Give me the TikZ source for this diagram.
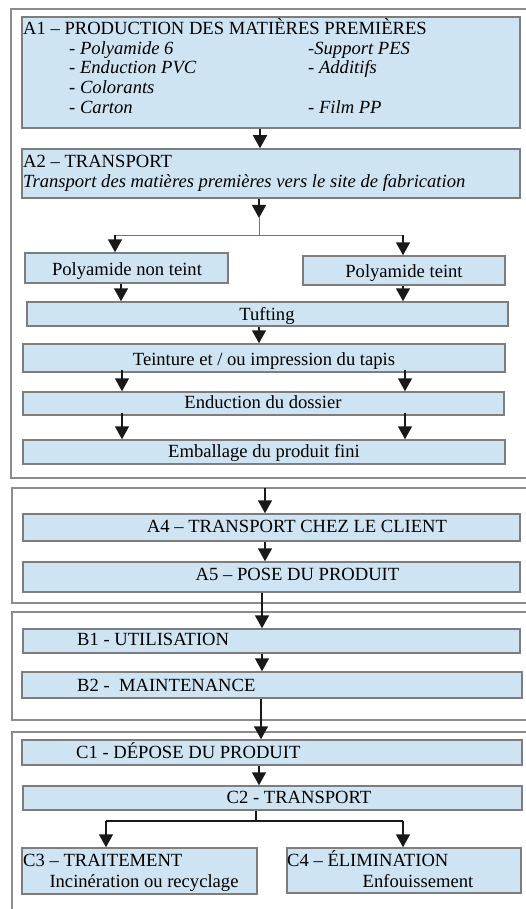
\documentclass[tikz,border=0pt]{standalone}
\usepackage{fontspec}
\setmainfont{Liberation Serif}
\usetikzlibrary{fit,arrows.meta}
\definecolor{boxfill}{RGB}{207,228,242}
\definecolor{boxline}{RGB}{125,125,125}
\definecolor{frameline}{RGB}{140,140,140}
\tikzset{
  box/.style={draw=boxline, line width=1.5pt, fill=boxfill, inner sep=0pt, rectangle},
  frame/.style={draw=frameline, line width=1.6pt},
  txt/.style={inner sep=0pt, font=\fontsize{18.6}{20}\selectfont, text=black},
  itxt/.style={txt, font=\fontsize{18.6}{20}\selectfont\itshape},
  arr/.style={draw=black!90, line width=1.5pt, -{Triangle[width=14pt,length=13pt]}},
  ln/.style={draw=black!90, line width=1.5pt},
  gln/.style={draw=black!55, line width=1pt},
}
\begin{document}
\begin{tikzpicture}[x=1pt,y=-1pt]
\clip (0,0) rectangle (526,909);
\fill[white] (0,0) rectangle (526,909);
% outer frames
\draw[frame] (11,9) rectangle (560,478);
\draw[frame] (12,488) rectangle (560,603);
\draw[frame] (12,612) rectangle (560,720);
\draw[frame] (12,732) rectangle (560,960);
\coordinate (F2top) at (265,488);
% boxes
\node[box, fit={(22,17) (520,128)}] (A1) {};
\node[box, fit={(22,149) (520,198)}] (A2) {};
\node[box, fit={(25,253) (228,283)}] (PNT) {};
\node[box, fit={(303,256) (505,285)}] (PT) {};
\node[box, fit={(27,302) (508,326)}] (TUF) {};
\node[box, fit={(23,344) (505,372)}] (TEI) {};
\node[box, fit={(23,392) (504,415)}] (END) {};
\node[box, fit={(23,440) (505,464)}] (EMB) {};
\node[box, fit={(23,514) (520,541)}] (A4) {};
\node[box, fit={(23,562) (520,592)}] (A5) {};
\node[box, fit={(23,629) (520,653)}] (B1) {};
\node[box, fit={(22,672) (522,698)}] (B2) {};
\node[box, fit={(22,740) (522,765)}] (C1) {};
\node[box, fit={(23,786) (522,810)}] (C2) {};
\node[box, fit={(22,848) (257,894)}] (C3) {};
\node[box, fit={(287,848) (521,893)}] (C4) {};
% texts
\node[txt, anchor=base west] (A1t) at (23,34.5) {A1 – PRODUCTION DES MATIÈRES PREMIÈRES};
\node[itxt, anchor=base west] (A1a) at (69,54.5) {- Polyamide 6};
\node[itxt, anchor=base west] (A1b) at (69,74) {- Enduction PVC};
\node[itxt, anchor=base west] (A1c) at (69,94) {- Colorants};
\node[itxt, anchor=base west] (A1d) at (69,114) {- Carton};
\node[itxt, anchor=base west] (A1e) at (308,54.5) {-Support PES};
\node[itxt, anchor=base west] (A1f) at (308,74) {- Additifs};
\node[itxt, anchor=base west] (A1g) at (308,114) {- Film PP};
\node[txt, anchor=base west] (A2t) at (23,167.5) {A2 – TRANSPORT};
\node[itxt, anchor=base west] (A2s) at (23,187.5) {Transport des matières premières vers le site de fabrication};
\node[txt, anchor=base] (PNTt) at (127,275) {Polyamide non teint};
\node[txt, anchor=base] (PTt) at (404,277) {Polyamide teint};
\node[txt, anchor=base] (TUFt) at (267,320) {Tufting};
\node[txt, anchor=base] (TEIt) at (264,365) {Teinture et / ou impression du tapis};
\node[txt, anchor=base] (ENDt) at (263,408) {Enduction du dossier};
\node[txt, anchor=base] (EMBt) at (264,457) {Emballage du produit fini};
\node[txt, anchor=base] (A4t) at (297,532) {A4 – TRANSPORT CHEZ LE CLIENT};
\node[txt, anchor=base] (A5t) at (297.5,580) {A5 – POSE DU PRODUIT};
\node[txt, anchor=base west] (B1t) at (77,645) {B1 - UTILISATION};
\node[txt, anchor=base west] (B2t) at (77,691) {B2 -\ \ MAINTENANCE};
\node[txt, anchor=base west] (C1t) at (76,758) {C1 - DÉPOSE DU PRODUIT};
\node[txt, anchor=base] (C2t) at (299,803) {C2 - TRANSPORT};
\node[txt, anchor=base west] (C3t) at (23,866) {C3 – TRAITEMENT};
\node[txt, anchor=base] (C3s) at (144,887) {Incinération ou recyclage};
\node[txt, anchor=base west] (C4t) at (287,866) {C4 – ÉLIMINATION};
\node[txt, anchor=base] (C4s) at (418,887) {Enfouissement};
% connectors
\draw[arr] ([xshift=-11pt]A1.south) -- ([xshift=-11pt]A2.north);
\coordinate (S1) at (259,218);
\coordinate (S2) at (259,235);
\draw[arr] ([xshift=-12pt]A2.south) -- (S1);
\draw[gln] (S1) -- (S2);
\draw[gln] (115,235) -- (403,235);
\draw[arr] (S2 -| 115,0) -- (PNT.north -| 115,0);
\draw[arr] (S2 -| 403,0) -- (PT.north -| 403,0);
\draw[arr] ([xshift=-5.5pt]PNT.south) -- ([xshift=-5.5pt]PNT.south |- TUF.north);
\draw[arr] ([xshift=-1pt]PT.south) -- ([xshift=-1pt]PT.south |- TUF.north);
\draw[arr] ([xshift=-8.5pt]TUF.south) -- ([xshift=-8.5pt]TUF.south |- TEI.north);
\draw[arr] ([yshift=3pt]TEI.south -| 122,0) -- (END.north -| 122,0);
\draw[arr] ([yshift=3pt]TEI.south -| 405,0) -- (END.north -| 405,0);
\draw[arr] ([yshift=3pt]END.south -| 122,0) -- (EMB.north -| 122,0);
\draw[arr] ([yshift=3pt]END.south -| 405,0) -- (EMB.north -| 405,0);
\draw[arr] (F2top) -- (F2top |- A4.north);
\draw[arr] (A4.south -| 265,0) -- (A5.north -| 265,0);
\draw[arr] (A5.south -| 262,0) -- (B1.north -| 262,0);
\draw[arr] (B1.south -| 262,0) -- (B2.north -| 262,0);
\draw[arr] (B2.south -| 261,0) -- (C1.north -| 261,0);
\draw[arr] (C1.south -| 259,0) -- (C2.north -| 259,0);
\coordinate (S3) at (256,821);
\draw[ln] (C2.south -| S3) -- (S3);
\draw[ln] (106,821) -- (403,821);
\draw[arr] (S3 -| 106,0) -- (C3.north -| 106,0);
\draw[arr] (S3 -| 403,0) -- (C4.north -| 403,0);
\end{tikzpicture}
\end{document}
